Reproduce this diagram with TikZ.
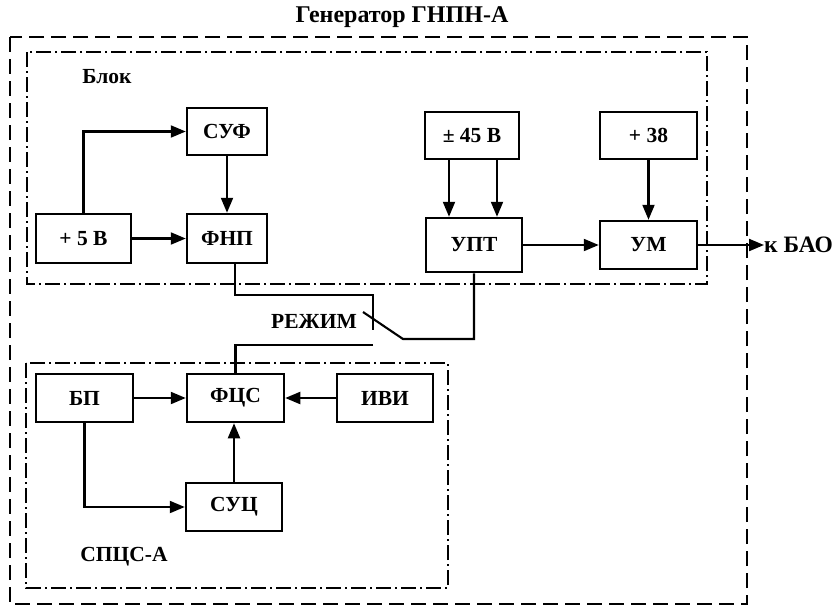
\documentclass[tikz,border=0pt]{standalone}
\usepackage{fontspec}
\setmainfont{Liberation Serif}
\usetikzlibrary{arrows.meta}
\begin{document}
\begin{tikzpicture}[x=1pt,y=-1pt,
  blk/.style={draw,line width=2.5pt,inner sep=0pt,font=\fontsize{21.5}{25}\selectfont\bfseries},
  lbl/.style={inner sep=0pt,font=\fontsize{21.5}{25}\selectfont\bfseries},
  wire/.style={line width=2.1pt},
  arr/.style={line width=2.1pt,-{Triangle[length=15pt,width=12pt]}},
  outerframe/.style={line width=2.2pt,dash pattern=on 15pt off 7pt},
  innerframe/.style={line width=2.2pt,dash pattern=on 15pt off 4pt on 2pt off 4pt}]
\useasboundingbox (0,0) rectangle (838,611);
% frames
\draw[outerframe] (10,37) rectangle (747,604);
\draw[innerframe] (27,52) rectangle (707,284);
\draw[innerframe] (26,363) rectangle (448,588);
% labels
\node[lbl,font=\fontsize{24}{28}\selectfont\bfseries] (title) at (402,17) {Генератор ГНПН-А};
\node[lbl] (blok) at (107,77) {Блок};
\node[lbl] (spcs) at (124,557) {СПЦС-А};
\node[lbl] (rezhim) at (314,321) {РЕЖИМ};
% upper block
\node[blk,minimum width=80pt,minimum height=47pt] (suf) at (227,131.5) {СУФ};
\node[blk,minimum width=95pt,minimum height=49pt] (p5) at (83.5,238.5) {+ 5 В};
\node[blk,minimum width=80pt,minimum height=49pt] (fnp) at (227,238.5) {ФНП};
\node[blk,minimum width=94pt,minimum height=47pt] (pm45) at (472,135.5) {± 45 В};
\node[blk,minimum width=97pt,minimum height=47pt] (p38) at (648.5,135.5) {+ 38};
\node[blk,minimum width=96pt,minimum height=54pt] (upt) at (474,245) {УПТ};
\node[blk,minimum width=97pt,minimum height=48pt] (um) at (648.5,245) {УМ};
\node[lbl,anchor=west,font=\fontsize{23.5}{27}\selectfont\bfseries] (bao) at (764,245) {к БАО};
% lower block
\node[blk,minimum width=97pt,minimum height=48pt] (bp) at (84.5,398) {БП};
\node[blk,minimum width=97pt,minimum height=48pt] (fcs) at (235.5,398) {ФЦС};
\node[blk,minimum width=96pt,minimum height=48pt] (ivi) at (385,398) {ИВИ};
\node[blk,minimum width=96pt,minimum height=48pt] (suc) at (234,507) {СУЦ};
% upper connectors
\draw[arr] (p5.north) |- (suf.west);
\draw[arr] (p5.east) -- (fnp.west);
\draw[arr] (suf.south) -- (fnp.north);
\draw[arr] ([xshift=-23pt]pm45.south) -- ([xshift=-23pt]pm45.south |- upt.north);
\draw[arr] ([xshift=25pt]pm45.south) -- ([xshift=25pt]pm45.south |- upt.north);
\draw[arr] (p38.south) -- (um.north);
\draw[arr] (upt.east) -- (um.west);
\draw[arr] (um.east) -- (bao.west);
% lower connectors
\draw[arr] (bp.east) -- (fcs.west);
\draw[arr] (ivi.west) -- (fcs.east);
\draw[arr] (suc.north) -- (suc.north |- fcs.south);
\draw[arr] (bp.south) |- (suc.west);
% switch
\coordinate (s1) at (373,295);
\coordinate (s2) at (373,330);
\coordinate (b1) at (363,312);
\coordinate (b2) at (403,339);
\coordinate (s3) at (373,345);
\draw[wire] ([xshift=8pt]fnp.south) |- (s1) -- (s2);
\draw[wire] (b1) -- (b2) -- (b2 -| upt.south) -- (upt.south);
\draw[wire] (s3) -| (fcs.north);
\end{tikzpicture}
\end{document}
